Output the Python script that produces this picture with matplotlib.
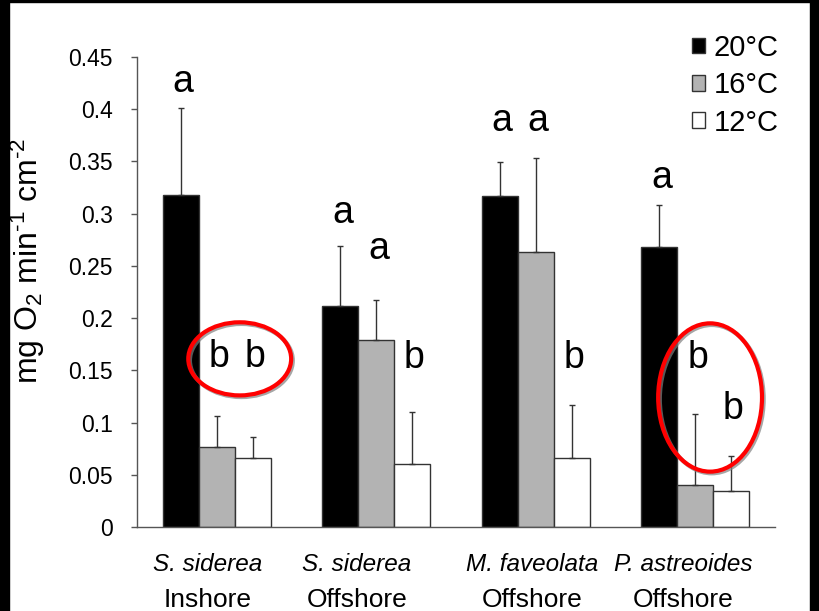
import matplotlib

matplotlib.use("Agg")
import matplotlib.pyplot as plt
import matplotlib.patheffects as pe
from matplotlib.patches import Ellipse, Patch, Rectangle
import numpy as np

plt.rcParams["font.family"] = ["Liberation Sans", "DejaVu Sans"]
plt.rcParams["mathtext.fontset"] = "custom"
plt.rcParams["mathtext.rm"] = "Liberation Sans"
plt.rcParams["mathtext.it"] = "Liberation Sans:italic"

# data
species = ["S. siderea", "S. siderea", "M. faveolata", "P. astreoides"]
sites = ["Inshore", "Offshore", "Offshore", "Offshore"]
temps = ["20°C", "16°C", "12°C"]
mean_20 = [0.318, 0.212, 0.317, 0.268]
mean_16 = [0.077, 0.179, 0.263, 0.040]
mean_12 = [0.066, 0.060, 0.066, 0.034]
err_20 = [0.083, 0.057, 0.032, 0.040]
err_16 = [0.029, 0.038, 0.090, 0.068]
err_12 = [0.020, 0.050, 0.051, 0.034]
# significance letters and the height they sit at
letters_20 = ["a", "a", "a", "a"]
letters_16 = ["b", "a", "a", "b"]
letters_12 = ["b", "b", "b", "b"]
letter_y_20 = [0.426, 0.301, 0.389, 0.334]
letter_y_16 = [0.163, 0.266, 0.389, 0.162]
letter_y_12 = [0.163, 0.162, 0.162, 0.113]
# x-label nudges (text boxes were placed by hand in the original)
label_shift = [-0.06, -0.12, -0.02, -0.075]
# circled groups: (centre x, centre y, width, height) in data units
circles = [(0.144, 0.161, 0.645, 0.070), (3.093, 0.124, 0.651, 0.142)]

colors = ["black", "#b3b3b3", "white"]
means = [mean_20, mean_16, mean_12]
errs = [err_20, err_16, err_12]
letters = [letters_20, letters_16, letters_12]
letter_ys = [letter_y_20, letter_y_16, letter_y_12]

W, H = 820, 611
fig = plt.figure(figsize=(W / 100, H / 100), dpi=100)
ax = fig.add_axes([137 / W, 1 - 527 / H, (775 - 137) / W, (527 - 57) / H])

x = np.arange(len(species))
bw = 0.225
for k in range(3):
    pos = x + (k - 1) * bw
    ax.bar(pos, means[k], width=bw, color=colors[k], edgecolor="#333333",
           lw=1, zorder=2, label=temps[k])
    ax.errorbar(pos, means[k], yerr=[np.zeros(len(x)), errs[k]], fmt="none",
                ecolor="#333333", elinewidth=1, capsize=2, capthick=1, zorder=3)
    for xi, lab, ly in zip(pos, letters[k], letter_ys[k]):
        ax.text(xi + 0.015, ly, lab, ha="center", va="center", fontsize=27)

for cx, cy, w, h in circles:
    e = Ellipse((cx, cy), w, h, fill=False, edgecolor="red", lw=3, zorder=4)
    e.set_path_effects([pe.SimpleLineShadow(offset=(1.2, -1.2), shadow_color="gray",
                                            alpha=0.7), pe.Normal()])
    ax.add_patch(e)

ax.set_xlim(-0.5, len(species) - 0.5)
ax.set_ylim(0, 0.45)
ax.set_yticks(np.arange(0, 0.451, 0.05))
ax.set_yticklabels(["0"] + [f"{v:g}" for v in np.arange(0.05, 0.451, 0.05).round(2)])
ax.tick_params(axis="y", length=4.5, width=1, color="#555555", pad=13, labelsize=16.5)
ax.set_xticks([])
for s in ["top", "right"]:
    ax.spines[s].set_visible(False)
for s in ["left", "bottom"]:
    ax.spines[s].set_color("#555555")
    ax.spines[s].set_linewidth(1)

for xi, sp, site, dx in zip(x, species, sites, label_shift):
    ax.annotate(sp, (xi + dx, 0), xycoords=("data", "axes fraction"),
                xytext=(0, -38 / 1.389), textcoords="offset points",
                ha="center", va="center", fontsize=17.5, style="italic")
    ax.annotate(site, (xi + dx, 0), xycoords=("data", "axes fraction"),
                xytext=(0, -73 / 1.389), textcoords="offset points",
                ha="center", va="center", fontsize=19)

fig.text(28 / W, 1 - 261 / H,
         "mg O$_\\mathregular{2}$ min$^\\mathregular{\u2010" + "1}$ cm$^\\mathregular{\u2010" + "2}$",
         rotation=90, ha="center", va="center", fontsize=23)

handles = [Patch(facecolor=c, edgecolor="#333333", lw=1) for c in colors]
ax.legend(handles, temps, loc="upper left", bbox_to_anchor=(692 / W, 1 - 34 / H),
          bbox_transform=fig.transFigure, frameon=False, fontsize=21,
          handlelength=0.45, handleheight=0.45, handletextpad=0.3,
          labelspacing=0.32, borderpad=0, borderaxespad=0)

# black frame strips from the screenshot
for x0, y0, w, h in [(0, 0, 9, H), (0, H - 2, W, 2), (W - 10, 0, 10, H)]:
    fig.add_artist(Rectangle((x0 / W, y0 / H), w / W, h / H, color="black",
                             transform=fig.transFigure, zorder=10))

fig.savefig("out.png", dpi=100)
